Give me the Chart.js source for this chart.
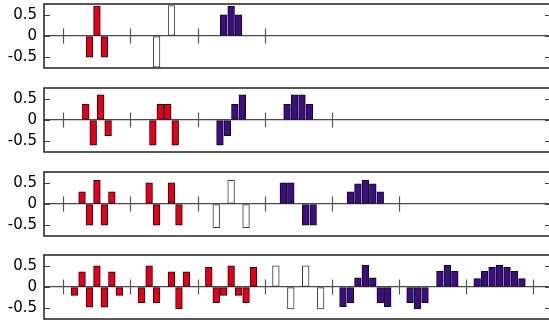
<!DOCTYPE html>
<html>
<head>
<meta charset="utf-8">
<script src="https://cdn.jsdelivr.net/npm/chart.js@4.4.1/dist/chart.umd.min.js"></script>
<style>
    html, body { margin: 0; padding: 0; background: #fff; overflow: hidden; width: 549px; height: 325px; }
    .panel { position: absolute; left: 0; }
</style>
</head>
<body>
<canvas class="panel" id="c1" width="553" height="70" style="top:0px"></canvas>
<canvas class="panel" id="c2" width="553" height="70" style="top:84px"></canvas>
<canvas class="panel" id="c3" width="553" height="70" style="top:168px"></canvas>
<canvas class="panel" id="c4" width="553" height="70" style="top:251px"></canvas>
<script>
// group boundaries on the x axis (one group = 9 units)
const separators = [0, 9, 18, 27, 36, 45, 54, 63];

// y ticks
const yTicks = [-0.5, 0, 0.5];
const yTickLabels = ['-0.5', '0', '0.5'];

// level 1
const level1Values = [[-0.5, 0.71, -0.5], [-0.74, 0, 0.72], [0.5, 0.71, 0.5]];
const level1Colors = ['red', 'white', 'purple'];

// level 2
const level2Values = [
    [0.37, -0.6, 0.6, -0.37],
    [-0.6, 0.37, 0.37, -0.6],
    [-0.6, -0.37, 0.37, 0.6],
    [0.37, 0.6, 0.6, 0.37]
];
const level2Colors = ['red', 'red', 'purple', 'purple'];

// level 3
const level3Values = [
    [0.29, -0.5, 0.56, -0.5, 0.29],
    [0.5, -0.5, 0, 0.5, -0.5],
    [-0.56, 0, 0.56, 0, -0.56],
    [0.5, 0.5, 0, -0.5, -0.5],
    [0.29, 0.48, 0.56, 0.48, 0.29]
];
const level3Colors = ['red', 'red', 'white', 'purple', 'purple'];

// level 4
const level4Values = [
    [-0.2, 0.36, -0.48, 0.5, -0.48, 0.36, -0.2],
    [-0.37, 0.5, -0.37, 0, 0.36, -0.52, 0.36],
    [0.47, -0.37, -0.2, 0.5, -0.2, -0.37, 0.47],
    [0.5, 0, -0.52, 0, 0.5, 0, -0.52],
    [-0.47, -0.37, 0.22, 0.52, 0.22, -0.37, -0.47],
    [-0.37, -0.52, -0.37, 0, 0.37, 0.52, 0.37],
    [0.2, 0.37, 0.47, 0.52, 0.47, 0.37, 0.2]
];
const level4Colors = ['red', 'red', 'red', 'white', 'purple', 'purple', 'purple'];

const styles = {
    red: { bg: '#e2001c', border: '#2a0005' },
    white: { bg: '#ffffff', border: '#3a3a3a' },
    purple: { bg: '#3c0f7e', border: '#10032a' }
};

// bar points of one colour, centred in their group
function buildBars(values, colors, kind) {
    const pts = [];
    values.forEach((grp, g) => {
        if (colors[g] !== kind) return;
        const centre = separators[g] + 4.5;
        grp.forEach((v, i) => pts.push({ x: centre + i - (grp.length - 1) / 2, y: v }));
    });
    return pts;
}

// separators, frame and inward ticks
const framePlugin = {
    id: 'frame',
    beforeDatasetsDraw(chart, args, opts) {
        const { ctx, scales: { x, y } } = chart;
        const y0 = y.getPixelForValue(0);
        ctx.save();
        ctx.strokeStyle = '#555';
        ctx.lineWidth = 1.2;
        opts.seps.forEach(s => {
            const px = Math.round(x.getPixelForValue(s)) + 0.5;
            ctx.beginPath();
            ctx.moveTo(px, y0 - 7.5);
            ctx.lineTo(px, y0 + 7.5);
            ctx.stroke();
        });
        ctx.restore();
    },
    afterDraw(chart) {
        const { ctx, chartArea: a, scales: { y } } = chart;
        ctx.save();
        ctx.strokeStyle = '#444';
        ctx.lineWidth = 1.2;
        yTicks.forEach(v => {
            const py = Math.round(y.getPixelForValue(v)) + 0.5;
            ctx.beginPath();
            ctx.moveTo(a.left, py); ctx.lineTo(a.left + 6, py);
            ctx.moveTo(a.right, py); ctx.lineTo(a.right - 6, py);
            ctx.stroke();
        });
        ctx.strokeStyle = '#222';
        ctx.lineWidth = 1.5;
        ctx.strokeRect(a.left, a.top, a.right - a.left, a.bottom - a.top);
        ctx.restore();
    }
};

function makePanel(id, values, colors) {
    const datasets = ['red', 'white', 'purple'].map(kind => ({
        data: buildBars(values, colors, kind),
        backgroundColor: styles[kind].bg,
        borderColor: styles[kind].border,
        borderWidth: 1,
        borderSkipped: false,
        barThickness: 6.7,
        grouped: false
    }));

    new Chart(document.getElementById(id), {
        type: 'bar',
        data: { datasets },
        plugins: [framePlugin],
        options: {
            responsive: false,
            animation: false,
            devicePixelRatio: 1,
            layout: { padding: { top: 4, right: 2, bottom: 2, left: 0 } },
            scales: {
                x: {
                    type: 'linear',
                    min: -2.6,
                    max: 65.4,
                    offset: false,
                    display: false
                },
                y: {
                    min: -0.76,
                    max: 0.76,
                    afterFit: s => { s.width = 44; s.paddingTop = 0; s.paddingBottom = 0; },
                    afterBuildTicks: s => { s.ticks = yTicks.map(v => ({ value: v })); },
                    ticks: {
                        padding: 7,
                        color: '#000',
                        font: { family: 'DejaVu Sans', size: 15 },
                        callback: v => yTickLabels[yTicks.indexOf(v)]
                    },
                    grid: {
                        drawTicks: false,
                        lineWidth: 1.3,
                        color: c => (c.tick && c.tick.value === 0) ? '#4a4a4a' : 'rgba(0,0,0,0)'
                    },
                    border: { display: false }
                }
            },
            plugins: {
                legend: { display: false },
                tooltip: { enabled: false },
                frame: { seps: separators.slice(0, values.length + 1) }
            }
        }
    });
}

makePanel('c1', level1Values, level1Colors);
makePanel('c2', level2Values, level2Colors);
makePanel('c3', level3Values, level3Colors);
makePanel('c4', level4Values, level4Colors);
</script>
</body>
</html>
